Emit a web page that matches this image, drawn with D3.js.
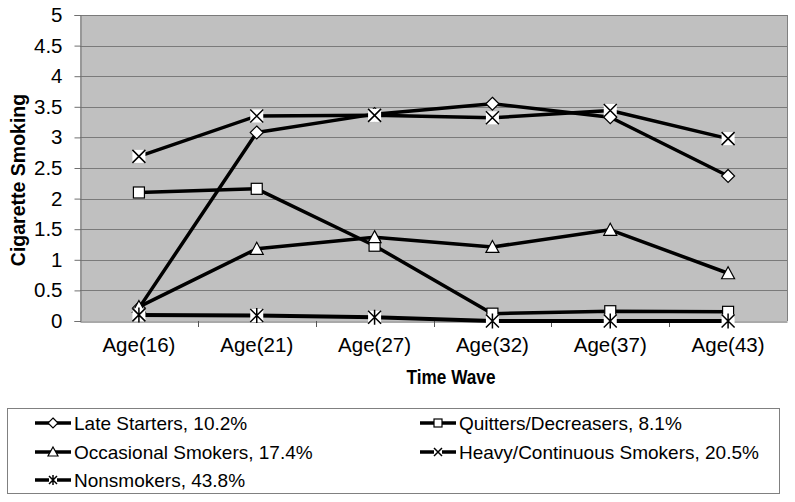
<!DOCTYPE html>
<html>
<head>
<meta charset="utf-8">
<script src="https://cdn.jsdelivr.net/npm/d3@7"></script>
<style>
  html, body { margin: 0; padding: 0; background: #fff; }
  svg { display: block; font-family: "Liberation Sans", Arial, sans-serif; }
</style>
</head>
<body>
<svg id="chart" width="795" height="502"></svg>
<script>
const categories = ["Age(16)", "Age(21)", "Age(27)", "Age(32)", "Age(37)", "Age(43)"];
const lateStarters = [0.21, 3.08, 3.38, 3.55, 3.33, 2.37];
const quitters = [2.10, 2.16, 1.23, 0.12, 0.16, 0.15];
const occasional = [0.23, 1.18, 1.37, 1.21, 1.49, 0.78];
const heavy = [2.69, 3.35, 3.36, 3.32, 3.44, 2.98];
const nonsmokers = [0.10, 0.09, 0.06, 0.0, 0.0, 0.0];
const seriesNames = ["Late Starters, 10.2%", "Quitters/Decreasers, 8.1%", "Occasional Smokers, 17.4%", "Heavy/Continuous Smokers, 20.5%", "Nonsmokers, 43.8%"];
const seriesMarkers = ["diamond", "square", "triangle", "x", "star"];
const yTicks = [0, 0.5, 1, 1.5, 2, 2.5, 3, 3.5, 4, 4.5, 5];
const yTitle = "Cigarette Smoking";
const xTitle = "Time Wave";

const series = [lateStarters, quitters, occasional, heavy, nonsmokers].map((v, i) => ({
  name: seriesNames[i], marker: seriesMarkers[i], values: v
}));

const svg = d3.select("#chart");
const plot = { left: 80, right: 787, top: 15, bottom: 321 };

const x = d3.scaleBand().domain(categories).range([plot.left, plot.right]).padding(0);
const y = d3.scaleLinear().domain([0, 5]).range([plot.bottom, plot.top]);
const cx = c => x(c) + x.bandwidth() / 2;

// plot background
svg.append("rect")
  .attr("x", plot.left).attr("y", plot.top)
  .attr("width", plot.right - plot.left).attr("height", plot.bottom - plot.top)
  .attr("fill", "#c0c0c0");

// gridlines
svg.append("g").selectAll("line").data(yTicks.filter(d => d > 0)).join("line")
  .attr("x1", plot.left).attr("x2", plot.right)
  .attr("y1", d => Math.round(y(d)) + 0.5).attr("y2", d => Math.round(y(d)) + 0.5)
  .attr("stroke", "#7a7a7a").attr("stroke-width", 1);

// right border
svg.append("line")
  .attr("x1", plot.right + 0.5).attr("x2", plot.right + 0.5)
  .attr("y1", plot.top).attr("y2", plot.bottom)
  .attr("stroke", "#808080");

// y axis
const yAxis = d3.axisLeft(y).tickValues(yTicks).tickSize(6).tickPadding(12)
  .tickFormat(d => String(d));
const gy = svg.append("g").attr("transform", `translate(${plot.left + 0.5},0)`).call(yAxis);
gy.select(".domain").attr("stroke", "#707070");
gy.selectAll(".tick line").attr("stroke", "#707070");
gy.selectAll(".tick text").attr("font-size", 20.5).attr("fill", "#000")
  .attr("font-family", "'Liberation Sans', Arial, sans-serif");

// x axis
const xAxis = d3.axisBottom(x).tickSize(0).tickPadding(16);
const gx = svg.append("g").attr("transform", `translate(0,${plot.bottom + 0.5})`).call(xAxis);
gx.select(".domain").attr("stroke", "#555").attr("stroke-width", 1.2);
gx.selectAll(".tick text").attr("font-size", 20.5).attr("fill", "#000")
  .attr("font-family", "'Liberation Sans', Arial, sans-serif");
// category boundary ticks
svg.append("g").selectAll("line").data(categories.slice(1)).join("line")
  .attr("x1", d => Math.round(x(d)) + 0.5).attr("x2", d => Math.round(x(d)) + 0.5)
  .attr("y1", plot.bottom).attr("y2", plot.bottom + 6)
  .attr("stroke", "#555");

// axis titles
svg.append("text")
  .attr("transform", `translate(25,180) rotate(-90)`)
  .attr("text-anchor", "middle")
  .attr("font-size", 19.5).attr("font-weight", "bold")
  .text(yTitle);
svg.append("text")
  .attr("x", 451).attr("y", 384)
  .attr("text-anchor", "middle")
  .attr("font-size", 21).attr("font-weight", "bold")
  .attr("textLength", 89).attr("lengthAdjust", "spacingAndGlyphs")
  .text(xTitle);

// marker drawing
function drawMarker(g, type, px, py, s) {
  const h = s / 2;
  if (type === "diamond") {
    g.append("path").attr("d", `M${px},${py - h - 1}L${px + h + 1},${py}L${px},${py + h + 1}L${px - h - 1},${py}Z`)
      .attr("fill", "#fff").attr("stroke", "#000").attr("stroke-width", 1.2);
  } else if (type === "square") {
    g.append("rect").attr("x", px - h).attr("y", py - h).attr("width", s).attr("height", s)
      .attr("fill", "#fff").attr("stroke", "#000").attr("stroke-width", 1.2);
  } else if (type === "triangle") {
    g.append("path").attr("d", `M${px},${py - h - 1}L${px + h + 1},${py + h}L${px - h - 1},${py + h}Z`)
      .attr("fill", "#fff").attr("stroke", "#000").attr("stroke-width", 1.2);
  } else if (type === "x" || type === "star") {
    g.append("rect").attr("x", px - h).attr("y", py - h).attr("width", s).attr("height", s)
      .attr("fill", "#fff");
    g.append("path").attr("d", `M${px - h},${py - h}L${px + h},${py + h}M${px + h},${py - h}L${px - h},${py + h}`
      + (type === "star" ? `M${px},${py - h - 1}L${px},${py + h + 1}` : ""))
      .attr("stroke", "#000").attr("stroke-width", 1.5).attr("fill", "none");
  }
}

const line = d3.line().x((d, i) => cx(categories[i])).y(d => y(d));

series.forEach(s => {
  const g = svg.append("g");
  g.append("path").datum(s.values).attr("d", line)
    .attr("fill", "none").attr("stroke", "#000").attr("stroke-width", s.marker === "star" ? 4 : 3.5)
    .attr("stroke-linejoin", "round");
  s.values.forEach((v, i) => drawMarker(g, s.marker, cx(categories[i]), y(v), s.marker === "x" || s.marker === "star" ? 13 : 11));
});

// legend
const legend = svg.append("g");
legend.append("rect")
  .attr("x", 7.5).attr("y", 408.5).attr("width", 772).attr("height", 85)
  .attr("fill", "#fff").attr("stroke", "#808080").attr("stroke-width", 1);
const legendPos = [
  { x: 35, y: 423 }, { x: 420, y: 423 },
  { x: 35, y: 452 }, { x: 420, y: 452 },
  { x: 35, y: 480 }
];
series.forEach((s, i) => {
  const p = legendPos[i];
  const g = legend.append("g");
  g.append("line").attr("x1", p.x).attr("x2", p.x + 36).attr("y1", p.y).attr("y2", p.y)
    .attr("stroke", "#000").attr("stroke-width", 3.5);
  drawMarker(g, s.marker, p.x + 18, p.y, 8);
  g.append("text").attr("x", p.x + 39).attr("y", p.y).attr("dy", "0.35em")
    .attr("font-size", 19).text(s.name);
});
</script>
</body>
</html>
